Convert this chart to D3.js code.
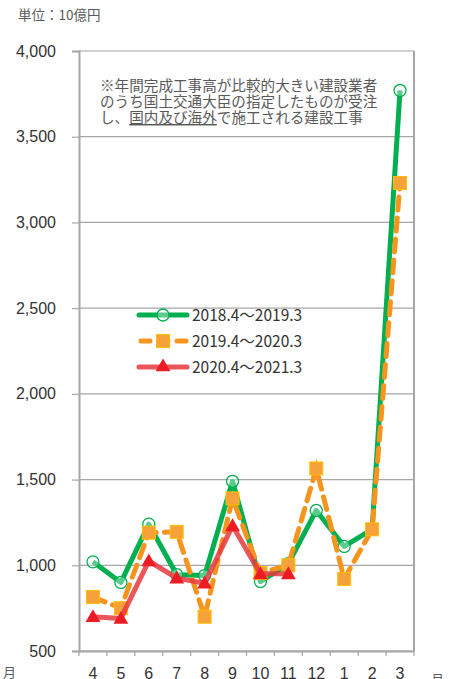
<!DOCTYPE html>
<html>
<head>
<meta charset="utf-8">
<script src="https://cdn.jsdelivr.net/npm/d3@7"></script>
<style>
  body { margin: 0; background: #fff; }
  svg { display: block; font-family: "Noto Sans CJK JP", "Noto Sans", sans-serif; }
</style>
</head>
<body>
<svg id="chart" width="452" height="679"></svg>
<script>
// 月
const months = ["4", "5", "6", "7", "8", "9", "10", "11", "12", "1", "2", "3"];
const yTicks = [500, 1000, 1500, 2000, 2500, 3000, 3500, 4000];

// 完成工事高（10億円）
const fy2018 = [1020, 900, 1240, 945, 940, 1490, 905, 1010, 1320, 1110, 1210, 3770];
const fy2019 = [815, 750, 1190, 1195, 700, 1390, 955, 1000, 1565, 920, 1210, 3230];
const fy2020 = [700, 690, 1025, 925, 895, 1230, 950, 950];

const seriesNames = ["2018.4～2019.3", "2019.4～2020.3", "2020.4～2021.3"];

const noteLines = [
  ["※年間完成工事高が比較的大きい建設業者"],
  ["のうち国土交通大臣の指定したものが受注"],
  ["し、", "国内及び海外", "で施工される建設工事"]
];

const svg = d3.select("#chart");
const plotL = 79, plotR = 414, plotT = 51, plotB = 651;

const x = d3.scaleBand().domain(months).range([plotL, plotR]);
const y = d3.scaleLinear().domain([500, 4000]).range([plotB, plotT]);
const cx = (d, i) => x(months[i]) + x.bandwidth() / 2;

// 単位
svg.append("text")
  .attr("x", 18).attr("y", 20)
  .attr("font-size", 13.5).attr("fill", "#595959")
  .text("単位：10億円");

// グリッド
svg.append("g")
  .selectAll("line")
  .data(yTicks)
  .enter()
  .append("line")
  .attr("x1", plotL).attr("x2", plotR)
  .attr("y1", (d) => y(d)).attr("y2", (d) => y(d))
  .attr("stroke", "#a6a6a6").attr("stroke-width", 1.2);

// Y軸
const yAxis = svg.append("g")
  .attr("transform", `translate(${plotL},0)`)
  .call(d3.axisLeft(y).tickValues(yTicks).tickSize(7).tickPadding(16).tickFormat(d3.format(",")));
yAxis.select(".domain").attr("stroke", "#a6a6a6").attr("stroke-width", 2);
yAxis.selectAll(".tick line").attr("stroke", "#a6a6a6").attr("stroke-width", 1.2);
yAxis.selectAll("text").attr("font-size", 16).attr("fill", "#333")
  .attr("font-family", "'Liberation Sans', 'Noto Sans', sans-serif");

// 右枠
svg.append("line")
  .attr("x1", plotR).attr("x2", plotR).attr("y1", plotT).attr("y2", plotB)
  .attr("stroke", "#a6a6a6").attr("stroke-width", 2);

// X軸
const xAxis = svg.append("g")
  .attr("transform", `translate(0,${plotB})`)
  .call(d3.axisBottom(x).tickSize(0).tickPadding(0));
xAxis.select(".domain").attr("stroke", "#a6a6a6").attr("stroke-width", 2);
xAxis.selectAll("text")
  .attr("y", 28).attr("dy", null)
  .attr("font-size", 16).attr("fill", "#333")
  .attr("font-family", "'Liberation Sans', 'Noto Sans', sans-serif");
// 区切り目盛
xAxis.selectAll(".sep")
  .data(months.concat([null]))
  .enter()
  .append("line")
  .attr("class", "sep")
  .attr("x1", (d, i) => plotL + i * x.step())
  .attr("x2", (d, i) => plotL + i * x.step())
  .attr("y1", 0).attr("y2", 5)
  .attr("stroke", "#a6a6a6").attr("stroke-width", 1.2);

svg.append("text").attr("x", 3).attr("y", 677)
  .attr("font-size", 13).attr("fill", "#595959").text("月");
svg.append("text").attr("x", 431).attr("y", 684)
  .attr("font-size", 13).attr("fill", "#595959").text("月");

// 注記
const note = svg.append("g").attr("font-size", 14.6).attr("fill", "#595959");
noteLines.forEach((parts, i) => {
  const t = note.append("text").attr("x", 100).attr("y", 91 + i * 16);
  parts.forEach((p, j) => {
    t.append("tspan")
      .attr("text-decoration", j === 1 ? "underline" : null)
      .text(p);
  });
});

const line = d3.line().x(cx).y((d) => y(d));

// 2018
svg.append("path")
  .datum(fy2018)
  .attr("d", line)
  .attr("fill", "none").attr("stroke", "#00b050").attr("stroke-width", 5)
  .attr("stroke-linejoin", "round");
svg.append("g")
  .selectAll("circle")
  .data(fy2018)
  .enter()
  .append("circle")
  .attr("cx", cx).attr("cy", (d) => y(d)).attr("r", 6)
  .attr("fill", "rgba(255,255,255,0.35)").attr("stroke", "#00b050").attr("stroke-width", 1.3);

// 2019
svg.append("path")
  .datum(fy2019)
  .attr("d", line)
  .attr("fill", "none").attr("stroke", "#f7941d").attr("stroke-width", 5)
  .attr("stroke-dasharray", "13,8").attr("stroke-linecap", "round");
svg.append("g")
  .selectAll("rect")
  .data(fy2019)
  .enter()
  .append("rect")
  .attr("x", (d, i) => cx(d, i) - 6.5).attr("y", (d) => y(d) - 6.5)
  .attr("width", 13).attr("height", 13)
  .attr("fill", "#f7a13a").attr("stroke", "#ffc000").attr("stroke-width", 1);

// 2020
svg.append("path")
  .datum(fy2020)
  .attr("d", line)
  .attr("fill", "none").attr("stroke", "#e8383d").attr("stroke-opacity", 0.85)
  .attr("stroke-width", 5).attr("stroke-linejoin", "round");
const tri = d3.symbol().type(d3.symbolTriangle).size(95);
svg.append("g")
  .selectAll("path")
  .data(fy2020)
  .enter()
  .append("path")
  .attr("d", tri)
  .attr("transform", (d, i) => `translate(${cx(d, i)},${y(d) + 1})`)
  .attr("fill", "#ed1c24");

// 凡例
const legend = svg.append("g");
const legendY = [315, 341, 367];
legendY.forEach((ly, i) => {
  const g = legend.append("g").attr("transform", `translate(0,${ly})`);
  const ln = g.append("line").attr("x1", 139).attr("x2", 187).attr("y1", 0).attr("y2", 0)
    .attr("stroke-width", 5).attr("stroke-linecap", "round");
  if (i === 0) {
    ln.attr("stroke", "#00b050");
    g.append("circle").attr("cx", 163).attr("cy", 0).attr("r", 6)
      .attr("fill", "rgba(255,255,255,0.35)").attr("stroke", "#00b050").attr("stroke-width", 1.3);
  } else if (i === 1) {
    ln.attr("stroke", "#f7941d").attr("stroke-dasharray", "9,9").attr("x1", 141);
    g.append("rect").attr("x", 156.5).attr("y", -6.5).attr("width", 13).attr("height", 13)
      .attr("fill", "#f7a13a").attr("stroke", "#ffc000").attr("stroke-width", 1);
  } else {
    ln.attr("stroke", "#e8383d").attr("stroke-opacity", 0.85);
    g.append("path").attr("d", tri).attr("transform", "translate(163,0)").attr("fill", "#ed1c24");
  }
  g.append("text").attr("x", 192).attr("y", 0).attr("dy", "0.36em")
    .attr("font-size", 15.5).attr("fill", "#333")
    .text(seriesNames[i]);
});
</script>
</body>
</html>
